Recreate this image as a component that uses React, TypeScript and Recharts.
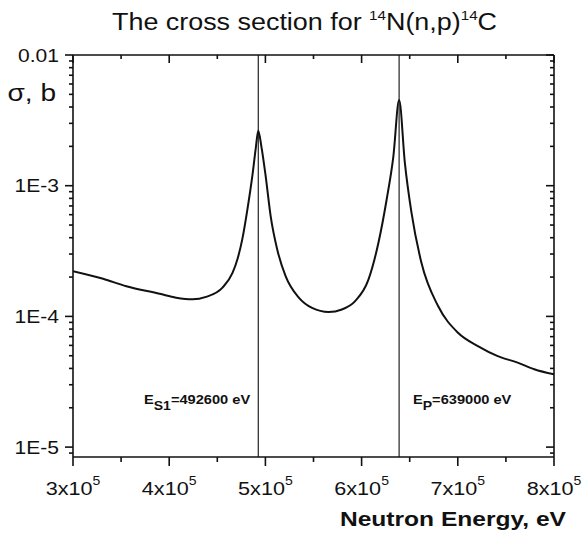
import React from 'react';
import { LineChart, Line, XAxis, YAxis, ReferenceLine } from 'recharts';

// --- Data ---
const ENERGY = [
    300000, 331300, 355500, 390000, 407200, 424400, 438300, 455400, 465800, 471000,
    476000, 481300, 486500, 490000, 492600, 495800, 500300, 505500, 512300, 521000,
    534700, 548500, 565700, 579500, 593300, 607100, 617500, 626000, 633000, 639000,
    645000, 651900, 662200, 679500, 700200, 720900, 741500, 762200, 779500, 800000,
];
const SIGMA = [
    2.22e-4, 1.94e-4, 1.7e-4, 1.49e-4, 1.39e-4, 1.35e-4, 1.41e-4, 1.66e-4, 2.15e-4, 2.75e-4,
    3.9e-4, 6.6e-4, 1.2e-3, 1.94e-3, 2.63e-3, 2.0e-3, 1.18e-3, 5.83e-4, 3.25e-4, 2.03e-4,
    1.39e-4, 1.16e-4, 1.08e-4, 1.13e-4, 1.31e-4, 1.91e-4, 3.66e-4, 7.81e-4, 1.67e-3, 4.52e-3,
    1.49e-3, 6.19e-4, 2.57e-4, 1.2e-4, 7.5e-5, 5.93e-5, 4.97e-5, 4.43e-5, 3.94e-5, 3.6e-5,
];

const RESONANCES = [492600, 639000];

const X_TICKS = [
    300000, 350000, 400000, 450000, 500000, 550000, 600000, 650000, 700000, 750000, 800000,
];
const Y_DECADES = [1e-5, 1e-4, 1e-3, 1e-2];
const Y_DECADE_LABELS = ['1E-5', '1E-4', '1E-3', '0.01'];
const Y_MINOR_STEPS = [2, 3, 4, 5, 6, 7, 8, 9];

const Y_DOMAIN: [number, number] = [8.4e-6, 0.01];
const X_DOMAIN: [number, number] = [300000, 800000];

const data = ENERGY.map((e, i) => ({ energy: e, sigma: SIGMA[i] }));

const Y_TICKS = [9e-6, ...Y_DECADES.flatMap((d) =>
    d >= 0.01 ? [d] : [d, ...Y_MINOR_STEPS.map((m) => +(d * m).toPrecision(3))]
)];

const W = 583;
const H = 534;
const FONT = '"Liberation Sans", Arial, Helvetica, sans-serif';
const INK = '#111';
// the scanned figure is a bit wider than plain Arial
const STRETCH = 1.17;

const isMajorY = (v: number) => Math.abs(Math.log10(v) - Math.round(Math.log10(v))) < 1e-6;
const isMajorX = (v: number) => v % 100000 === 0;

const Txt = ({ x, y, anchor = 'start', size, weight = 'normal', children }: any) => (
    <text
        transform={`translate(${x},${y}) scale(${STRETCH},1)`}
        textAnchor={anchor}
        fontSize={size}
        fontWeight={weight}
        fontFamily={FONT}
        fill={INK}
    >
        {children}
    </text>
);

const Mark = ({ x1, y1, x2, y2 }: any) => (
    <path d={`M${x1},${y1}L${x2},${y2}`} stroke={INK} strokeWidth={1.6} fill="none" />
);

const BottomTick = ({ x, y, payload }: any) => {
    const major = isMajorX(payload.value);
    return (
        <g>
            <Mark x1={x} y1={y} x2={x} y2={y + (major ? 9 : 5)} />
            {major && (
                <Txt x={x} y={y + 38} anchor="middle" size={18.5}>
                    {`${payload.value / 100000}x10`}
                    <tspan fontSize={12} dy={-10}>5</tspan>
                </Txt>
            )}
        </g>
    );
};

const TopTick = ({ x, y, payload }: any) => {
    const major = isMajorX(payload.value);
    return <g><Mark x1={x} y1={y} x2={x} y2={y + (major ? 8 : 4)} /></g>;
};

const LeftTick = ({ x, y, payload }: any) => {
    const v = payload.value;
    const major = isMajorY(v);
    const idx = Y_DECADES.findIndex((d) => Math.abs(d - v) / d < 1e-6);
    return (
        <g>
            <Mark x1={x - (major ? 8 : 4)} y1={y} x2={x} y2={y} />
            {major && idx >= 0 && (
                <Txt x={x - 14} y={y + 6.5} anchor="end" size={18}>
                    {Y_DECADE_LABELS[idx]}
                </Txt>
            )}
        </g>
    );
};

const RightTick = ({ x, y, payload }: any) => {
    const major = isMajorY(payload.value);
    return <g><Mark x1={x - (major ? 8 : 4)} y1={y} x2={x} y2={y} /></g>;
};

const Annotations = () => (
    <g>
        <Txt x={112} y={30} size={23}>
            {'The cross section for '}
            <tspan fontSize={13} dy={-10}>14</tspan>
            <tspan fontSize={23} dy={10}>N(n,p)</tspan>
            <tspan fontSize={13} dy={-10}>14</tspan>
            <tspan fontSize={23} dy={10}>C</tspan>
        </Txt>
        <Txt x={56} y={101} anchor="end" size={24}>σ, b</Txt>
        <Txt x={566} y={526} anchor="end" size={21} weight="bold">Neutron Energy, eV</Txt>
        <Txt x={144} y={404} size={12.5} weight="bold">
            E<tspan fontSize={12} dy={6}>S1</tspan>
            <tspan dy={-6}>=492600 eV</tspan>
        </Txt>
        <Txt x={413} y={404} size={12.5} weight="bold">
            E<tspan fontSize={12} dy={6}>P</tspan>
            <tspan dy={-6}>=639000 eV</tspan>
        </Txt>
    </g>
);

export default function App() {
    return (
        <div style={{ position: 'absolute', left: 0, top: 0, width: W, height: H, background: '#fff' }}>
            <LineChart width={W} height={H} data={data} margin={{ top: 54, right: 28, bottom: 0, left: 0 }}>
                <XAxis
                    dataKey="energy"
                    type="number"
                    domain={X_DOMAIN}
                    ticks={X_TICKS}
                    interval={0}
                    allowDataOverflow
                    height={77}
                    tickSize={0}
                    tickMargin={0}
                    tickLine={false}
                    axisLine={{ stroke: INK, strokeWidth: 1.6 }}
                    tick={<BottomTick />}
                />
                <XAxis
                    xAxisId="top"
                    orientation="top"
                    dataKey="energy"
                    type="number"
                    domain={X_DOMAIN}
                    ticks={X_TICKS}
                    interval={0}
                    allowDataOverflow
                    height={1}
                    tickSize={0}
                    tickMargin={0}
                    tickLine={false}
                    axisLine={{ stroke: INK, strokeWidth: 1.6 }}
                    tick={<TopTick />}
                />
                <YAxis
                    type="number"
                    scale="log"
                    domain={Y_DOMAIN}
                    ticks={Y_TICKS}
                    interval={0}
                    allowDataOverflow
                    width={73}
                    tickSize={0}
                    tickMargin={0}
                    tickLine={false}
                    axisLine={{ stroke: INK, strokeWidth: 1.6 }}
                    tick={<LeftTick />}
                />
                <YAxis
                    yAxisId="right"
                    orientation="right"
                    type="number"
                    scale="log"
                    domain={Y_DOMAIN}
                    ticks={Y_TICKS}
                    interval={0}
                    allowDataOverflow
                    width={1}
                    tickSize={0}
                    tickMargin={0}
                    tickLine={false}
                    axisLine={{ stroke: INK, strokeWidth: 1.6 }}
                    tick={<RightTick />}
                />
                {RESONANCES.map((e) => (
                    <ReferenceLine key={e} x={e} stroke="#222" strokeWidth={1.2} />
                ))}
                <Line
                    dataKey="sigma"
                    type="monotone"
                    stroke={INK}
                    strokeWidth={2}
                    dot={false}
                    isAnimationActive={false}
                />
                <Annotations />
            </LineChart>
        </div>
    );
}
